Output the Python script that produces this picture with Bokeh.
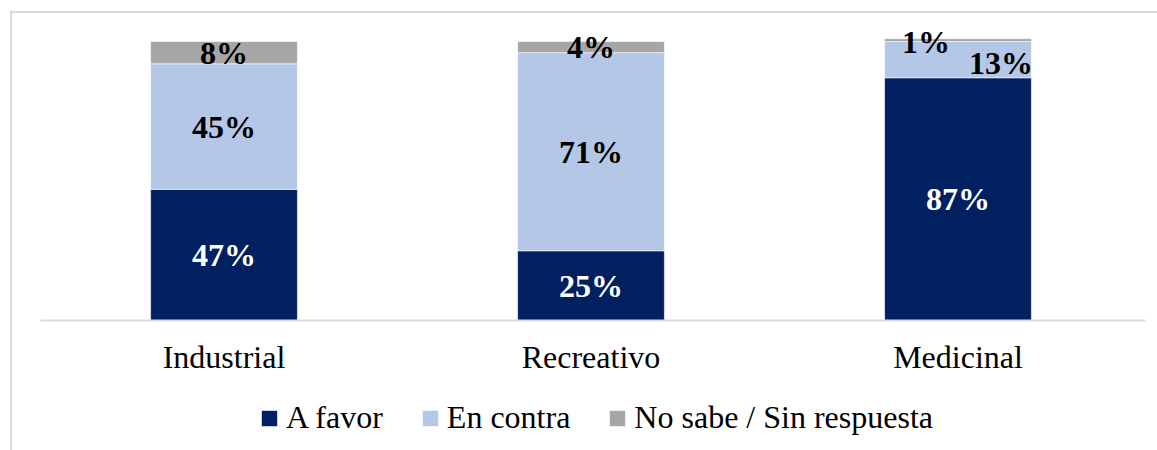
from bokeh.plotting import figure
from bokeh.models import ColumnDataSource, Range1d, Legend, LegendItem, Span, FixedTicker
from bokeh.embed import file_html
from bokeh.resources import INLINE
from bokeh.core.properties import value

# ---- data ----
categories = ["Industrial", "Recreativo", "Medicinal"]
series_names = ["A favor", "En contra", "No sabe / Sin respuesta"]
a_favor = [47, 25, 87]
en_contra = [45, 71, 13]
no_sabe = [8, 4, 1]

colors = ["#002060", "#B4C7E7", "#A6A6A6"]
label_colors = ["white", "black", "black"]
FONT = "Liberation Serif"
BORDER = "#d9d9d9"

xpos = list(range(len(categories)))
src = ColumnDataSource(dict(x=xpos, cat=categories, a=a_favor, b=en_contra, c=no_sabe))

p = figure(x_range=Range1d(-0.5845, 2.5436), y_range=Range1d(-46.59, 111.11),
           width=1157, height=450, output_backend="svg", toolbar_location=None,
           y_axis_location=None,
           min_border_left=9, min_border_right=0, min_border_top=10, min_border_bottom=0)
p.title.visible = False
p.outline_line_color = None
p.background_fill_color = "white"
p.border_fill_color = "white"
p.xgrid.grid_line_color = None
p.ygrid.grid_line_color = None

# chart-area border (top and left visible in the reference)
p.add_layout(Span(location=110.57, dimension="width", line_color=BORDER, line_width=2))
p.add_layout(Span(location=-0.5804, dimension="height", line_color=BORDER, line_width=2))

renderers = p.vbar_stack(["a", "b", "c"], x="x", width=0.4, source=src,
                         color=colors, line_color="white", line_width=0.6)

# data labels
lab_x, lab_y, lab_t, lab_c, lab_dx, lab_dy = [], [], [], [], [], []
series = [a_favor, en_contra, no_sabe]
for i, cat in enumerate(categories):
    base = 0
    for s, vals in enumerate(series):
        v = vals[i]
        lab_x.append(xpos[i])
        lab_y.append(base + v / 2)
        lab_t.append(f"{v}%")
        lab_c.append(label_colors[s])
        dx, dy = 0, 0
        if cat == "Medicinal" and s == 1:
            dx, dy = 43, 3
        if cat == "Medicinal" and s == 2:
            dx, dy = -32, 2
        lab_dx.append(dx)
        lab_dy.append(dy)
        base += v

lsrc = ColumnDataSource(dict(x=lab_x, y=lab_y, t=lab_t, c=lab_c, dx=lab_dx, dy=lab_dy))
p.text(x="x", y="y", text="t", source=lsrc, text_color="c", x_offset="dx", y_offset="dy",
       text_align="center", text_baseline="middle",
       text_font=value(FONT), text_font_size="32px", text_font_style="bold")

ax = p.xaxis[0]
ax.fixed_location = 0
ax.bounds = (-0.5, 2.511)
ax.ticker = FixedTicker(ticks=xpos)
ax.major_label_overrides = {x: c for x, c in zip(xpos, categories)}
ax.axis_line_color = BORDER
ax.axis_line_width = 2
ax.major_tick_line_color = None
ax.minor_tick_line_color = None
ax.major_tick_out = 0
ax.major_tick_in = 0
ax.major_label_standoff = 18
ax.major_label_text_font = FONT
ax.major_label_text_font_size = "32px"
ax.major_label_text_color = "black"

legend = Legend(items=[LegendItem(label=n, renderers=[r]) for n, r in zip(series_names, renderers)],
                orientation="horizontal", location=(250, 14),
                label_text_font=FONT, label_text_font_size="32px", label_text_color="black",
                glyph_width=20, glyph_height=20, label_standoff=7, spacing=37,
                border_line_color=None, background_fill_alpha=0, padding=0, margin=0)
p.add_layout(legend)

open("out.html", "w").write(file_html(p, INLINE))
